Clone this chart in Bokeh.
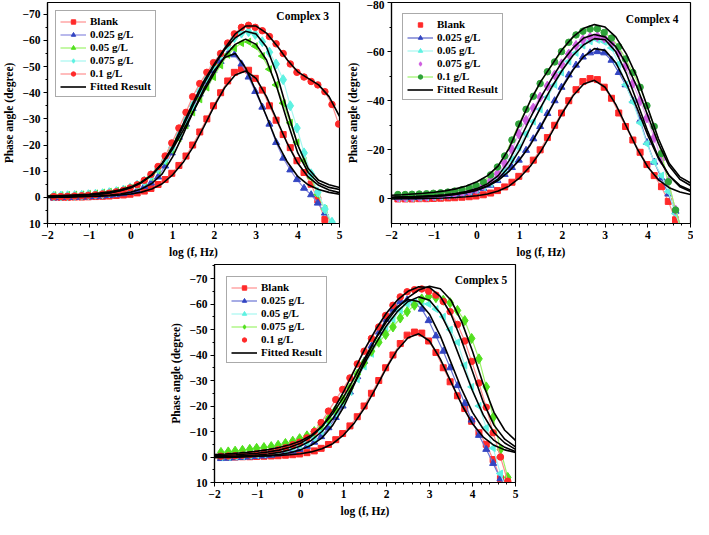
import math
from bokeh.plotting import figure
from bokeh.models import Range1d, FixedTicker, Legend, LegendItem, Label, Spacer
from bokeh.layouts import column, row
from bokeh.embed import file_html
from bokeh.resources import INLINE

FONT = "Liberation Serif"

# ---------------- data ----------------
LOGF = [-1.85, -1.68, -1.52, -1.35, -1.18, -1.02, -0.85, -0.68, -0.52, -0.35, -0.18, -0.02,
        0.15, 0.32, 0.48, 0.65, 0.82, 0.98, 1.15, 1.32, 1.48, 1.65, 1.82, 1.98,
        2.15, 2.32, 2.48, 2.65, 2.82, 2.98, 3.15, 3.32, 3.48, 3.65, 3.82, 3.98,
        4.15, 4.32, 4.48, 4.65, 4.82, 4.98]
FIT_LOGF = [-2.0, -1.75, -1.5, -1.25, -1.0, -0.75, -0.5, -0.25, 0.0, 0.25, 0.5, 0.75,
            1.0, 1.25, 1.5, 1.75, 2.0, 2.25, 2.5, 2.75, 3.0, 3.25, 3.5, 3.75,
            4.0, 4.25, 4.5, 4.75, 5.0]

BLANK = [0.0, 0.0, 0.0, -0.1, -0.1, -0.2, -0.3, -0.4, -0.5, -0.7, -0.9, -1.2,
         -1.7, -2.4, -3.4, -4.9, -6.8, -9.2, -12.2, -15.8, -20.0, -25.0, -30.0, -35.0,
         -40.0, -44.5, -47.8, -49.0, -48.6, -45.5, -41.0, -35.0, -29.5, -24.0, -19.0, -14.0,
         -9.5, -5.0, 1.0, 8.5, 16.0, 24.0]
BLANK_FIT = [0.0, -0.1, -0.1, -0.2, -0.3, -0.4, -0.6, -0.9, -1.3, -2.0, -3.2, -5.2,
             -8.6, -13.3, -19.5, -27.0, -35.0, -42.0, -46.8, -48.3, -45.5, -38.5, -29.5, -20.5,
             -13.0, -7.8, -4.6, -2.8, -1.8]

# Complex 3
C3_025 = [0.2, 0.1, 0.0, 0.0, -0.1, -0.2, -0.3, -0.5, -0.7, -1.0, -1.4, -1.9,
          -2.6, -4.2, -5.5, -7.8, -12.0, -17.0, -23.0, -28.0, -34.0, -39.5, -44.5, -48.5,
          -52.0, -54.8, -54.5, -51.0, -46.0, -40.5, -34.5, -28.0, -21.0, -15.0, -10.5, -6.8,
          -3.5, -1.0, 2.2, 6.0, 9.5, 13.0]
C3_025_FIT = [0.0, -0.1, -0.2, -0.3, -0.4, -0.6, -0.9, -1.3, -2.0, -3.2, -5.3, -9.0,
              -15.5, -24.0, -33.0, -41.5, -48.5, -53.5, -55.0, -49.5, -40.5, -31.0, -21.0, -13.5,
              -8.0, -4.8, -3.0, -1.9, -1.2]
C3_05 = [-0.8, -0.8, -0.9, -1.0, -1.1, -1.3, -1.5, -1.8, -2.1, -2.5, -3.0, -3.7,
         -4.7, -6.0, -7.8, -10.3, -13.8, -18.0, -22.5, -27.5, -32.5, -37.5, -42.0, -46.0,
         -50.5, -54.5, -57.0, -59.0, -59.5, -57.8, -54.0, -49.0, -43.0, -36.0, -28.5, -21.0,
         -14.0, -7.5, -1.0, 4.5, 10.5, 16.0]
C3_05_FIT = [-0.5, -0.6, -0.8, -1.0, -1.2, -1.6, -2.1, -2.9, -4.0, -5.8, -8.5, -12.8,
             -18.5, -25.5, -33.0, -40.5, -47.5, -54.0, -58.5, -60.5, -58.5, -52.5, -42.0, -29.0,
             -17.0, -9.5, -5.5, -3.8, -3.0]
C3_075 = [-0.5, -0.5, -0.6, -0.7, -0.8, -1.0, -1.2, -1.4, -1.8, -2.2, -2.8, -3.6,
          -4.7, -6.2, -8.3, -11.0, -14.5, -19.0, -24.0, -29.5, -35.0, -40.5, -45.5, -50.0,
          -54.5, -58.0, -61.0, -62.8, -63.3, -62.3, -59.5, -55.5, -51.0, -45.0, -35.0, -26.5,
          -17.0, -9.0, -2.0, 4.5, 9.5, 14.0]
C3_075_FIT = [-0.4, -0.5, -0.6, -0.8, -1.0, -1.3, -1.8, -2.6, -3.8, -5.7, -8.6, -13.0,
              -19.0, -27.0, -35.5, -43.5, -50.5, -56.5, -61.0, -63.5, -62.5, -57.5, -47.0, -33.0,
              -20.0, -11.0, -6.5, -4.8, -3.8]
C3_1 = [-0.3, -0.3, -0.4, -0.5, -0.6, -0.8, -1.0, -1.3, -1.6, -2.1, -2.7, -3.6,
        -4.8, -6.5, -8.8, -11.8, -15.8, -20.8, -26.5, -32.5, -38.5, -43.5, -47.8, -51.5,
        -55.0, -59.0, -62.5, -65.0, -65.8, -65.0, -63.7, -61.5, -58.7, -55.0, -51.0, -47.8,
        -46.0, -44.3, -43.0, -40.4, -35.5, -28.0]
C3_1_FIT = [-0.3, -0.4, -0.5, -0.7, -0.9, -1.2, -1.7, -2.5, -3.7, -5.6, -8.5, -13.0,
            -19.5, -28.0, -36.5, -44.5, -51.0, -57.0, -62.5, -65.5, -65.5, -62.8, -58.0, -52.5,
            -48.0, -45.5, -43.0, -38.5, -31.0]

# Complex 4
C4_025 = [-0.5, -0.5, -0.6, -0.7, -0.8, -1.0, -1.2, -1.4, -1.8, -2.1, -2.6, -3.3,
          -4.3, -5.6, -7.5, -10.0, -12.8, -15.8, -19.8, -24.5, -29.5, -34.8, -40.0, -45.5,
          -50.5, -54.5, -57.8, -59.5, -60.0, -59.5, -56.5, -51.5, -46.5, -40.0, -32.0, -23.0,
          -15.0, -8.5, -2.0, 5.0, 14.0, 20.0]
C4_025_FIT = [-0.5, -0.6, -0.7, -0.9, -1.1, -1.4, -1.9, -2.6, -3.6, -5.2, -7.6, -11.2,
              -16.0, -22.0, -29.5, -37.5, -45.5, -52.5, -58.0, -61.2, -60.5, -55.5, -47.0, -37.0,
              -26.0, -16.5, -9.5, -5.0, -3.0]
C4_05 = [-0.3, -0.3, -0.4, -0.5, -0.6, -0.8, -1.0, -1.3, -1.7, -2.2, -2.9, -3.7,
         -4.8, -6.3, -8.5, -11.5, -16.0, -21.0, -26.5, -31.5, -36.5, -41.5, -46.5, -51.5,
         -56.0, -59.5, -62.5, -64.2, -64.8, -64.0, -61.5, -55.0, -46.5, -39.5, -31.0, -22.5,
         -15.0, -9.5, -3.0, 6.0, 14.0, 20.0]
C4_05_FIT = [-0.4, -0.5, -0.6, -0.8, -1.0, -1.3, -1.8, -2.5, -3.6, -5.4, -8.2, -13.0,
             -20.0, -29.0, -37.5, -45.5, -52.5, -58.5, -62.8, -65.3, -64.8, -60.0, -51.0, -39.5,
             -27.5, -17.0, -9.5, -5.5, -3.5]
C4_075 = [-0.8, -0.8, -0.9, -1.0, -1.1, -1.3, -1.5, -1.8, -2.2, -2.7, -3.3, -4.2,
          -5.6, -7.5, -10.3, -14.5, -20.0, -26.5, -32.0, -37.0, -41.5, -46.0, -50.5, -55.0,
          -59.0, -62.5, -64.8, -65.8, -66.2, -65.5, -63.5, -59.5, -54.0, -47.0, -40.0, -33.0,
          -25.0, -16.0, -7.0, 4.5, 14.0, 20.0]
C4_075_FIT = [-0.8, -0.9, -1.0, -1.2, -1.4, -1.7, -2.2, -3.0, -4.2, -6.2, -9.5, -15.5,
              -24.0, -33.0, -41.5, -49.0, -56.0, -61.5, -65.5, -67.0, -66.0, -62.0, -55.0, -45.5,
              -34.0, -22.5, -13.5, -8.0, -5.5]
C4_1 = [-1.8, -1.8, -1.9, -2.0, -2.1, -2.3, -2.5, -2.8, -3.2, -3.7, -4.5, -5.5,
        -7.0, -9.8, -13.0, -17.5, -24.0, -30.5, -36.5, -41.8, -47.0, -51.8, -55.8, -60.0,
        -63.8, -66.8, -68.3, -69.2, -69.3, -67.8, -65.5, -62.0, -57.0, -51.5, -45.5, -38.0,
        -29.5, -18.5, -7.0, 4.5, 14.0, 20.0]
C4_1_FIT = [-1.5, -1.7, -2.0, -2.3, -2.7, -3.3, -4.1, -5.3, -7.0, -9.5, -13.5, -20.5,
            -30.5, -40.0, -48.0, -54.5, -61.0, -66.0, -69.5, -71.0, -70.0, -66.0, -59.0, -49.5,
            -37.0, -24.5, -14.5, -9.0, -6.5]

# Complex 5
C5_025 = [0.6, 0.5, 0.3, 0.2, 0.0, -0.2, -0.4, -0.7, -1.2, -1.7, -2.3, -3.0,
          -4.2, -5.8, -8.0, -11.5, -15.5, -20.0, -25.5, -31.5, -37.5, -43.5, -49.0, -54.0,
          -58.0, -61.0, -61.6, -60.5, -58.0, -53.5, -47.5, -41.5, -35.0, -28.0, -21.0, -14.5,
          -8.5, -3.0, 2.5, 8.5, 14.0, 20.0]
C5_025_FIT = [0.3, 0.2, 0.1, -0.1, -0.3, -0.6, -1.0, -1.7, -2.8, -4.6, -7.5, -12.5,
              -19.5, -28.5, -38.0, -46.5, -54.0, -59.0, -61.8, -61.0, -56.0, -47.5, -37.0, -26.5,
              -17.5, -11.0, -6.5, -3.8, -2.2]
C5_05 = [0.0, 0.0, -0.2, -0.4, -0.6, -0.8, -1.1, -1.5, -2.0, -2.6, -3.3, -4.2,
         -5.5, -7.3, -10.0, -13.5, -17.0, -21.0, -25.5, -30.5, -35.5, -40.5, -45.5, -50.0,
         -54.0, -57.5, -60.0, -60.8, -60.3, -60.0, -58.0, -55.0, -50.0, -45.0, -36.0, -27.5,
         -20.0, -11.5, -3.5, 6.5, 14.0, 20.0]
C5_05_FIT = [-0.2, -0.3, -0.4, -0.6, -0.8, -1.2, -1.8, -2.8, -4.3, -6.5, -10.0, -15.0,
             -21.5, -29.0, -37.0, -44.5, -51.5, -57.0, -61.0, -62.8, -61.5, -56.5, -48.0, -37.0,
             -26.0, -16.5, -9.5, -5.5, -3.0]
C5_075 = [-1.8, -2.0, -2.3, -2.6, -3.0, -3.4, -3.7, -4.1, -4.6, -5.3, -6.2, -7.2,
          -8.3, -10.0, -12.5, -15.0, -18.5, -22.5, -27.0, -32.5, -37.0, -41.5, -45.0, -48.0,
          -51.0, -54.5, -57.0, -59.5, -62.0, -63.0, -62.5, -61.5, -60.5, -57.5, -53.5, -46.5,
          -38.5, -27.5, -15.5, -3.0, 8.0, 16.0]
C5_075_FIT = [-1.0, -1.2, -1.5, -1.8, -2.3, -2.9, -3.7, -4.8, -6.3, -8.5, -12.0, -17.0,
              -23.5, -31.0, -39.0, -46.5, -53.0, -58.5, -62.5, -65.5, -67.0, -66.0, -61.5, -53.0,
              -41.5, -28.5, -17.5, -10.5, -6.5]
C5_1 = [-0.3, -0.4, -0.5, -0.7, -0.9, -1.2, -1.6, -2.1, -2.8, -3.6, -4.8, -5.8,
        -7.5, -10.0, -13.5, -18.0, -22.5, -26.5, -31.0, -36.5, -41.5, -46.5, -51.0, -55.5,
        -59.5, -62.8, -64.8, -65.6, -65.9, -65.0, -63.5, -61.0, -57.0, -52.0, -45.5, -37.5,
        -29.0, -19.5, -9.5, 0.0, 9.5, 18.0]
C5_1_FIT = [-0.5, -0.7, -0.9, -1.2, -1.5, -2.0, -2.7, -3.8, -5.4, -8.0, -12.0, -18.0,
            -25.5, -34.0, -42.5, -50.0, -56.5, -61.5, -65.0, -66.8, -66.5, -63.0, -56.0, -45.5,
            -33.5, -21.5, -12.5, -7.0, -4.0]

X_TICKS = [-2, -1, 0, 1, 2, 3, 4, 5]

RED = "#ff2a2a"; PINK = "#ff8f8f"
BLUE = "#3345c2"; LBLUE = "#8a8ae0"
GREEN = "#52e01e"; LGREEN = "#9cf36a"
CYAN = "#5ef2e2"; LCYAN = "#a6f7f0"
MAG = "#cf5fe0"; LMAG = "#e4a4ee"
DGREEN = "#2fa23a"

LEFT = math.pi / 2


def make_panel(width, height, borders, ytop, yticks, yminor, series, fits, title, tpos, leg_margin):
    p = figure(width=width, height=height, x_range=Range1d(-2, 5), y_range=Range1d(10, ytop),
               output_backend="svg", toolbar_location=None,
               min_border_left=borders[0], min_border_right=borders[1],
               min_border_top=borders[2], min_border_bottom=borders[3])
    p.grid.visible = False
    p.outline_line_color = "black"
    p.outline_line_width = 1.2
    p.background_fill_color = "white"
    p.border_fill_color = "white"
    p.xaxis.ticker = FixedTicker(ticks=X_TICKS, minor_ticks=[-2 + 0.2 * k for k in range(36)])
    p.yaxis.ticker = FixedTicker(ticks=yticks, minor_ticks=yminor)
    for ax in (p.xaxis[0], p.yaxis[0]):
        ax.axis_line_color = "black"
        ax.axis_line_width = 1.2
        ax.major_tick_in = 0
        ax.major_tick_out = 4
        ax.minor_tick_in = 0
        ax.minor_tick_out = 2
        ax.major_tick_line_color = "black"
        ax.minor_tick_line_color = "black"
        ax.major_label_text_font = FONT
        ax.major_label_text_font_style = "bold"
        ax.major_label_text_font_size = "11.5px"
        ax.major_label_text_color = "black"
        ax.major_label_standoff = 3
        ax.axis_label_text_font = FONT
        ax.axis_label_text_font_style = "bold"
        ax.axis_label_text_font_size = "11.5px"
        ax.axis_label_text_color = "black"
        ax.axis_label_standoff = 4
    p.xaxis.axis_label = "log (f, Hz)"
    p.yaxis.axis_label = "Phase angle (degree)"

    items = []
    for s in series:
        lr = p.line(LOGF, s["y"], line_color=s["lc"], line_width=1.2)
        sr = p.scatter(LOGF, s["y"], marker=s["m"], size=s["size"], angle=s.get("angle", 0.0),
                       fill_color=s["c"], line_color=s["c"])
        items.append(LegendItem(label=s["label"], renderers=[lr, sr] if s["leg_line"] else [sr]))
    fit_rs = []
    for fy in fits:
        fit_rs.append(p.line(FIT_LOGF, fy, line_color="black", line_width=1.6))
    items.append(LegendItem(label="Fitted Result", renderers=[fit_rs[0]]))

    leg = Legend(items=items, location="top_left", margin=leg_margin)
    leg.label_text_font = FONT
    leg.label_text_font_style = "bold"
    leg.label_text_font_size = "11px"
    leg.label_text_color = "black"
    leg.label_height = 11
    leg.glyph_height = 11
    leg.glyph_width = 26
    leg.label_standoff = 4
    leg.spacing = 1
    leg.padding = 4
    leg.border_line_color = "#555555"
    leg.border_line_width = 1
    leg.background_fill_alpha = 1.0
    p.add_layout(leg)

    p.add_layout(Label(x=tpos[0], y=tpos[1], text=title, text_align="right", text_baseline="middle",
                       text_font=FONT, text_font_style="bold", text_font_size="11.5px",
                       text_color="black"))
    return p


y7 = [-70, -60, -50, -40, -30, -20, -10, 0, 10]
y7m = [-75, -65, -55, -45, -35, -25, -15, -5, 5]

p1 = make_panel(344, 260, (34, 5, 2, 30), -74.5, y7, y7m, [
    dict(label="Blank", y=BLANK, m="square", size=6, c=RED, lc=PINK, leg_line=True),
    dict(label="0.025 g/L", y=C3_025, m="triangle", size=7, c=BLUE, lc=LBLUE, leg_line=True),
    dict(label="0.05 g/L", y=C3_05, m="triangle", size=7, angle=LEFT, c=GREEN, lc=LGREEN, leg_line=True),
    dict(label="0.075 g/L", y=C3_075, m="diamond", size=10, c=CYAN, lc=LCYAN, leg_line=True),
    dict(label="0.1 g/L", y=C3_1, m="circle", size=6.5, c=RED, lc=PINK, leg_line=True),
], [BLANK_FIT, C3_025_FIT, C3_05_FIT, C3_075_FIT, C3_1_FIT], "Complex 3", (4.75, -69.4), 8)

p2 = make_panel(349, 260, (45, 3, 2, 30), -80, [-80, -60, -40, -20, 0], [-70, -50, -30, -10], [
    dict(label="Blank", y=BLANK, m="square", size=6, c=RED, lc=PINK, leg_line=False),
    dict(label="0.025 g/L", y=C4_025, m="triangle", size=7, c=BLUE, lc="#5a64c8", leg_line=True),
    dict(label="0.05 g/L", y=C4_05, m="triangle", size=7, angle=LEFT, c=CYAN, lc=LCYAN, leg_line=True),
    dict(label="0.075 g/L", y=C4_075, m="diamond", size=10, c=MAG, lc=LMAG, leg_line=False),
    dict(label="0.1 g/L", y=C4_1, m="circle", size=6.5, c=DGREEN, lc=LGREEN, leg_line=True),
], [BLANK_FIT, C4_025_FIT, C4_05_FIT, C4_075_FIT, C4_1_FIT], "Complex 4", (4.72, -73.1), 11)

p3 = make_panel(353, 259, (40, 5, 4, 30), -75.5, y7, y7m, [
    dict(label="Blank", y=BLANK, m="square", size=6, c=RED, lc=PINK, leg_line=True),
    dict(label="0.025 g/L", y=C5_025, m="triangle", size=7, c=BLUE, lc="#6a74d4", leg_line=True),
    dict(label="0.05 g/L", y=C5_05, m="triangle", size=7, angle=LEFT, c=CYAN, lc=LCYAN, leg_line=True),
    dict(label="0.075 g/L", y=C5_075, m="diamond", size=10, c=GREEN, lc=LGREEN, leg_line=True),
    dict(label="0.1 g/L", y=C5_1, m="circle", size=6.5, c=RED, lc=PINK, leg_line=False),
], [BLANK_FIT, C5_025_FIT, C5_05_FIT, C5_075_FIT, C5_1_FIT], "Complex 5", (4.81, -69.3), 12)

layout = column(row(p1, p2), row(Spacer(width=167, height=259), p3))
open("out.html", "w").write(file_html(layout, INLINE))
